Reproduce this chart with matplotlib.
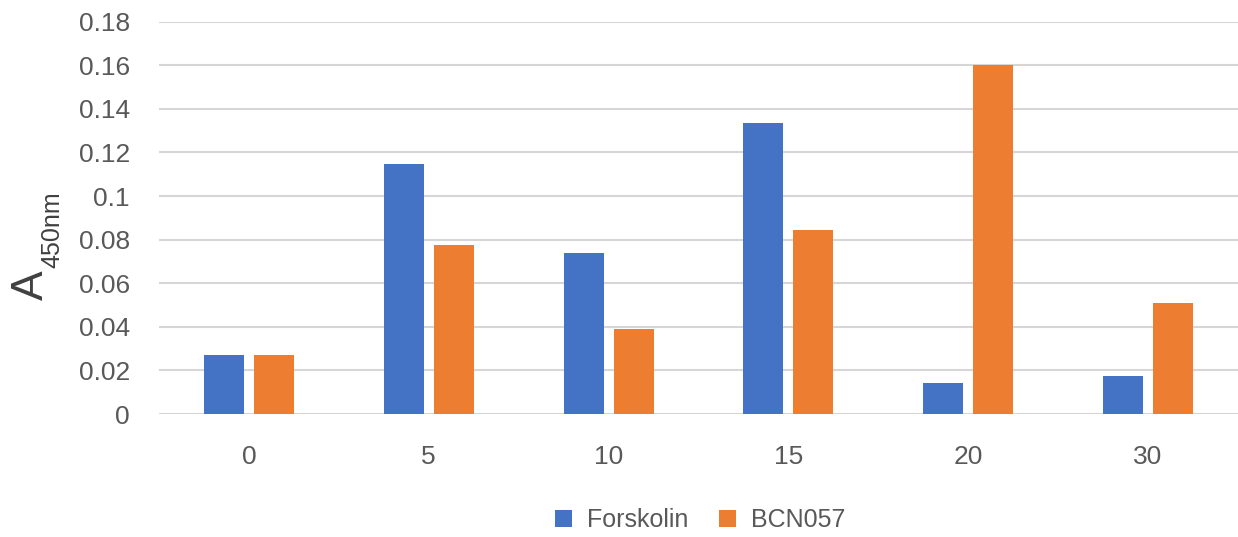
import matplotlib
matplotlib.use("Agg")
import matplotlib.pyplot as plt
import numpy as np

plt.rcParams['font.family'] = ['Liberation Sans', 'DejaVu Sans']

# time points and absorbance readings
categories = ['0', '5', '10', '15', '20', '30']
forskolin = [0.027, 0.1145, 0.0738, 0.1333, 0.0142, 0.0174]
bcn057 = [0.027, 0.0774, 0.039, 0.0843, 0.1603, 0.0508]
yticks = [0, 0.02, 0.04, 0.06, 0.08, 0.1, 0.12, 0.14, 0.16, 0.18]
ytick_labels = ['0', '0.02', '0.04', '0.06', '0.08', '0.1', '0.12', '0.14', '0.16', '0.18']

blue = '#4472C4'
orange = '#ED7D31'
grey_txt = '#595959'

fig = plt.figure(figsize=(12.38, 5.37), dpi=100)
ax = fig.add_axes([159 / 1238, 1 - 414 / 537, 1 - 159 / 1238, (414 - 21.6) / 537])

x = np.arange(len(categories))
w = 40 / 180
off = 25 / 180
ax.bar(x - off, forskolin, w, color=blue, label='Forskolin', zorder=3)
ax.bar(x + off, bcn057, w, color=orange, label='BCN057', zorder=3)

ax.set_xlim(-0.5, len(categories) - 0.5)
ax.set_ylim(0, 0.18)
ax.set_yticks(yticks)
ax.set_yticklabels(ytick_labels)
ax.set_xticks(x)
ax.set_xticklabels(categories)
ax.tick_params(axis='both', length=0, labelsize=19, labelcolor=grey_txt)
ax.tick_params(axis='y', pad=21)
ax.tick_params(axis='x', pad=22)

ax.grid(axis='y', color='#D6D6D6', linewidth=1.5, zorder=0)
for s in ax.spines.values():
    s.set_visible(False)
ax.set_axisbelow(True)

# y label: "A" with a smaller subscript
fig.text(31 / 1238, 1 - 300 / 537, 'A', rotation=90, fontsize=32, color='#404040',
         ha='center', va='bottom')
fig.text(52 / 1238, 1 - 268 / 537, '450nm', rotation=90, fontsize=18, color='#404040',
         ha='center', va='bottom')

fig.legend(loc='center', bbox_to_anchor=(700 / 1238, 1 - 520 / 537), ncol=2,
           frameon=False, fontsize=18, handlelength=0.7, handleheight=0.7,
           handletextpad=0.6, columnspacing=1.2, labelcolor=grey_txt)

fig.savefig('out.png', dpi=100)
